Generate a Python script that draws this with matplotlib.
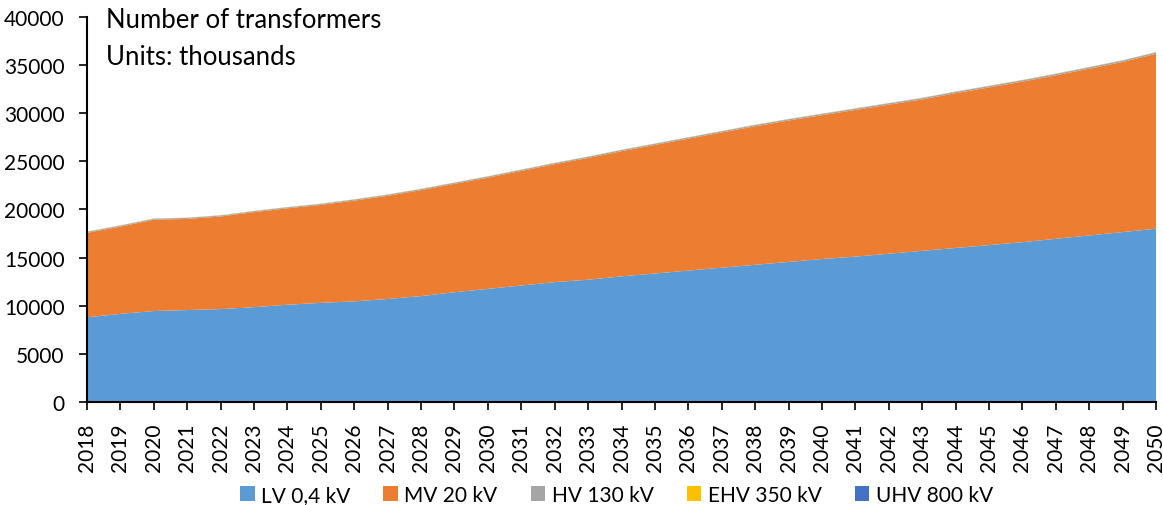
import matplotlib
matplotlib.use("Agg")
import matplotlib.pyplot as plt
from matplotlib.patches import Patch

plt.rcParams['font.family'] = ['Lato', 'DejaVu Sans']

# Years on the x axis
years = list(range(2018, 2051))

# Number of transformers, thousands
lv = [8800, 9150, 9450, 9550, 9650, 9850, 10100, 10300, 10450, 10700, 11000,
      11400, 11750, 12100, 12450, 12700, 13050, 13350, 13650, 13950, 14250,
      14550, 14850, 15100, 15400, 15700, 16000, 16300, 16600, 16950, 17300,
      17650, 18000]
mv = [8770, 9070, 9480, 9470, 9620, 9870, 10020, 10170, 10470, 10720, 11010,
      11260, 11560, 11900, 12250, 12650, 13000, 13350, 13700, 14050, 14390,
      14690, 14940, 15240, 15490, 15730, 16080, 16380, 16680, 16980, 17320,
      17670, 18170]
hv = [100, 100, 100, 100, 100, 100, 100, 100, 105, 105, 110, 110, 110, 115,
      115, 120, 120, 120, 125, 125, 130, 130, 130, 135, 135, 140, 140, 140,
      145, 145, 150, 150, 150]
ehv = [20] * len(years)
uhv = [10] * len(years)

labels = ["LV 0,4 kV", "MV 20 kV", "HV 130 kV", "EHV 350 kV", "UHV 800 kV"]
colors = ["#5B9BD5", "#ED7D31", "#A5A5A5", "#FFC000", "#4472C4"]

fig = plt.figure(figsize=(11.63, 5.06), dpi=100)
ax = fig.add_axes([0.0748, 0.2036, 0.9192, 0.7609])

ax.stackplot(years, lv, mv, hv, ehv, uhv, colors=colors, labels=labels, linewidth=0)

ax.set_xlim(2018, 2050)
ax.set_ylim(0, 40000)
ax.set_yticks(range(0, 40001, 5000))
ax.set_xticks(years)
ax.set_xticklabels([str(y) for y in years], rotation=90)
ax.tick_params(axis='both', direction='out', length=6, width=1.2, labelsize=15, colors='black')
ax.tick_params(axis='x', pad=9)
ax.tick_params(axis='y', pad=10)

for s in ['top', 'right']:
    ax.spines[s].set_visible(False)
for s in ['left', 'bottom']:
    ax.spines[s].set_linewidth(1.5)
    ax.spines[s].set_color('black')

fig.text(0.091, 0.985, "Number of transformers\nUnits: thousands", fontsize=18.5,
         va='top', ha='left', linespacing=1.6)

handles = [Patch(facecolor=c, edgecolor='none') for c in colors]
fig.legend(handles, labels, loc='center', bbox_to_anchor=(0.53, 0.02), ncol=5,
           frameon=False, fontsize=15, handlelength=0.7, handleheight=0.7,
           handletextpad=0.3, columnspacing=1.6)

fig.savefig("out.png", dpi=100)
